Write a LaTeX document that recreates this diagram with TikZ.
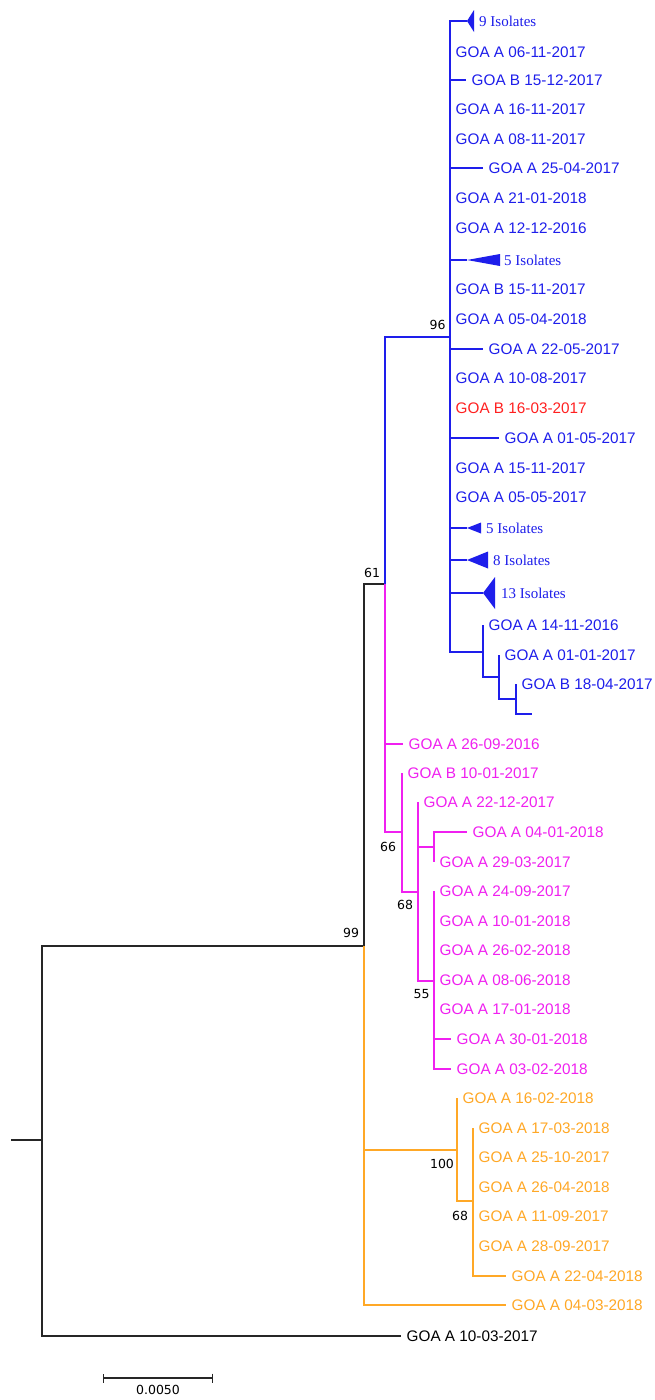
\documentclass[tikz,border=0pt]{standalone}
\usepackage{fontspec}
\setmainfont{Liberation Sans}
\newfontfamily\bootfont{DejaVu Sans}
\newfontfamily\isofont{Liberation Serif}
\usetikzlibrary{arrows.meta,positioning}
\definecolor{treeblue}{HTML}{1E1EEB}
\definecolor{treemag}{HTML}{F020F0}
\definecolor{treeorange}{HTML}{FFA826}
\definecolor{treered}{HTML}{FF2020}

\begin{document}
\begin{tikzpicture}[
  x=1pt, y=-1pt,
  leaf/.style={
    anchor=west,
    inner xsep=5.5pt,
    inner ysep=0pt,
    font=\fontsize{15.3}{18}\selectfont
  },
  bleaf/.style={leaf, text=treeblue},
  mleaf/.style={leaf, text=treemag},
  oleaf/.style={leaf, text=treeorange},
  iso/.style={anchor=west, inner sep=0pt, text=treeblue, font=\isofont\fontsize{15}{17}\selectfont},
  boot/.style={inner sep=0pt, font=\bootfont\fontsize{12.5}{14}\selectfont},
  br/.style={line width=1.3pt, draw=black!85},
  bluebr/.style={line width=1.3pt, draw=treeblue},
  magbr/.style={line width=1.3pt, draw=treemag},
  orbr/.style={line width=1.3pt, draw=treeorange}
]
\path[fill=white] (0,0) rectangle (655,1400);
\useasboundingbox (0,0) rectangle (655,1400);

% internal nodes
\coordinate (r0) at (11,1140);
\coordinate (root) at (42,1140);
\coordinate (n99) at (364,946);
\coordinate (n61) at (385,584);
\coordinate (n96) at (450,337);
\coordinate (nA) at (483,652);
\coordinate (nB) at (499,677);
\coordinate (nC) at (516,699);
\coordinate (tipend) at (532,714);
\coordinate (n66) at (402,832);
\coordinate (n68m) at (418,892);
\coordinate (nX) at (434,847);
\coordinate (n55) at (434,981);
\coordinate (n100) at (457,1150);
\coordinate (n68o) at (473,1201);

% blue clade
\node[bleaf] (a061117) at (450,52) {GOA A 06-11-2017};
\node[bleaf] (b151217) at (466,80) {GOA B 15-12-2017};
\node[bleaf] (a161117) at (450,109) {GOA A 16-11-2017};
\node[bleaf] (a081117) at (450,139) {GOA A 08-11-2017};
\node[bleaf] (a250417) at (483,168) {GOA A 25-04-2017};
\node[bleaf] (a210118) at (450,198) {GOA A 21-01-2018};
\node[bleaf] (a121216) at (450,228) {GOA A 12-12-2016};
\node[bleaf] (b151117) at (450,289) {GOA B 15-11-2017};
\node[bleaf] (a050418) at (450,319) {GOA A 05-04-2018};
\node[bleaf] (a220517) at (483,349) {GOA A 22-05-2017};
\node[bleaf] (a100817) at (450,378) {GOA A 10-08-2017};
\node[leaf, text=treered] (b160317) at (450,408) {GOA B 16-03-2017};
\node[bleaf] (a010517) at (499,438) {GOA A 01-05-2017};
\node[bleaf] (a151117) at (450,468) {GOA A 15-11-2017};
\node[bleaf] (a050517) at (450,497) {GOA A 05-05-2017};
\node[bleaf] (a141116) at (483,625) {GOA A 14-11-2016};
\node[bleaf] (a010117) at (499,655) {GOA A 01-01-2017};
\node[bleaf] (b180417) at (516,684) {GOA B 18-04-2017};

% collapsed groups
\coordinate (iso9) at (467,21);
\coordinate (iso5a) at (467,260);
\coordinate (iso5b) at (467,528);
\coordinate (iso8) at (467,560);
\coordinate (iso13) at (483,593);
\fill[treeblue] (iso9) -- ++(7,-11) -- ++(0,22) -- cycle;
\fill[treeblue] (iso5a) -- ++(33,-6) -- ++(0,12) -- cycle;
\fill[treeblue] (iso5b) -- ++(14,-5.5) -- ++(0,11) -- cycle;
\fill[treeblue] (iso8) -- ++(21,-8.5) -- ++(0,17) -- cycle;
\fill[treeblue] (iso13) -- ++(12,-16) -- ++(0,32) -- cycle;
\node[iso] (l9) at (479,21) {9 Isolates};
\node[iso] (l5a) at (504,260) {5 Isolates};
\node[iso] (l5b) at (486,528) {5 Isolates};
\node[iso] (l8) at (493,560) {8 Isolates};
\node[iso] (l13) at (501,593) {13 Isolates};

% magenta clade
\node[mleaf] (a260916) at (403,744) {GOA A 26-09-2016};
\node[mleaf] (b100117) at (402,773) {GOA B 10-01-2017};
\node[mleaf] (a221217) at (418,802) {GOA A 22-12-2017};
\node[mleaf] (a040118) at (467,832) {GOA A 04-01-2018};
\node[mleaf] (a290317) at (434,862) {GOA A 29-03-2017};
\node[mleaf] (a240917) at (434,891) {GOA A 24-09-2017};
\node[mleaf] (a100118) at (434,921) {GOA A 10-01-2018};
\node[mleaf] (a260218) at (434,950) {GOA A 26-02-2018};
\node[mleaf] (a080618) at (434,980) {GOA A 08-06-2018};
\node[mleaf] (a170118) at (434,1009) {GOA A 17-01-2018};
\node[mleaf] (a300118) at (451,1039) {GOA A 30-01-2018};
\node[mleaf] (a030218) at (451,1069) {GOA A 03-02-2018};

% orange clade
\node[oleaf] (a160218) at (457,1098) {GOA A 16-02-2018};
\node[oleaf] (a170318) at (473,1128) {GOA A 17-03-2018};
\node[oleaf] (a251017) at (473,1157) {GOA A 25-10-2017};
\node[oleaf] (a260418) at (473,1187) {GOA A 26-04-2018};
\node[oleaf] (a110917) at (473,1216) {GOA A 11-09-2017};
\node[oleaf] (a280917) at (473,1246) {GOA A 28-09-2017};
\node[oleaf] (a220418) at (506,1276) {GOA A 22-04-2018};
\node[oleaf] (a040318) at (506,1305) {GOA A 04-03-2018};

% outgroup
\node[leaf] (a100317) at (401,1336) {GOA A 10-03-2017};

% bootstrap values
\node[boot] (b96) at (437.5,325) {96};
\node[boot] (b61) at (372,573) {61};
\node[boot] (b99) at (351,933) {99};
\node[boot] (b66) at (388,847) {66};
\node[boot] (b68m) at (405,905) {68};
\node[boot] (b55) at (421.5,994) {55};
\node[boot] (b100) at (442,1164) {100};
\node[boot] (b68o) at (460,1216) {68};

% backbone
\draw[br] (r0) -- (root);
\draw[br] (root) |- (n99);
\draw[br] (root) |- (a100317.west);
\draw[br] (n99) |- (n61);
\draw[bluebr] (n61) |- (n96);
\draw[magbr] (n61) |- (n66);
\draw[magbr] (n61) |- (a260916.west);
\draw[orbr] (n99) |- (n100);
\draw[orbr] (n99) |- (a040318.west);

% blue branches
\draw[bluebr] (n96) |- (iso9);
\draw[bluebr] (n96) |- (a061117.west);
\draw[bluebr] (n96) |- (b151217.west);
\draw[bluebr] (n96) |- (a250417.west);
\draw[bluebr] (n96) |- (iso5a);
\draw[bluebr] (n96) |- (a220517.west);
\draw[bluebr] (n96) |- (a010517.west);
\draw[bluebr] (n96) |- (iso5b);
\draw[bluebr] (n96) |- (iso8);
\draw[bluebr] (n96) |- (iso13);
\draw[bluebr] (n96) |- (nA);
\draw[bluebr] (nA) |- (a141116.west);
\draw[bluebr] (nA) |- (nB);
\draw[bluebr] (nB) |- (a010117.west);
\draw[bluebr] (nB) |- (nC);
\draw[bluebr] (nC) |- (b180417.west);
\draw[bluebr] (nC) |- (tipend);

% magenta branches
\draw[magbr] (n66) |- (b100117.west);
\draw[magbr] (n66) |- (n68m);
\draw[magbr] (n68m) |- (a221217.west);
\draw[magbr] (n68m) |- (nX);
\draw[magbr] (n68m) |- (n55);
\draw[magbr] (nX) |- (a040118.west);
\draw[magbr] (nX) |- (a290317.west);
\draw[magbr] (n55) |- (a240917.west);
\draw[magbr] (n55) |- (a300118.west);
\draw[magbr] (n55) |- (a030218.west);

% orange branches
\draw[orbr] (n100) |- (a160218.west);
\draw[orbr] (n100) |- (n68o);
\draw[orbr] (n68o) |- (a170318.west);
\draw[orbr] (n68o) |- (a220418.west);

% scale bar
\coordinate (sbL) at (103,1378);
\coordinate (sbR) at (213,1378);
\draw[br, {Bar[width=9pt]}-{Bar[width=9pt]}] (sbL) -- node[boot, below=7pt] (sblabel) {0.0050} (sbR);

\end{tikzpicture}
\end{document}
